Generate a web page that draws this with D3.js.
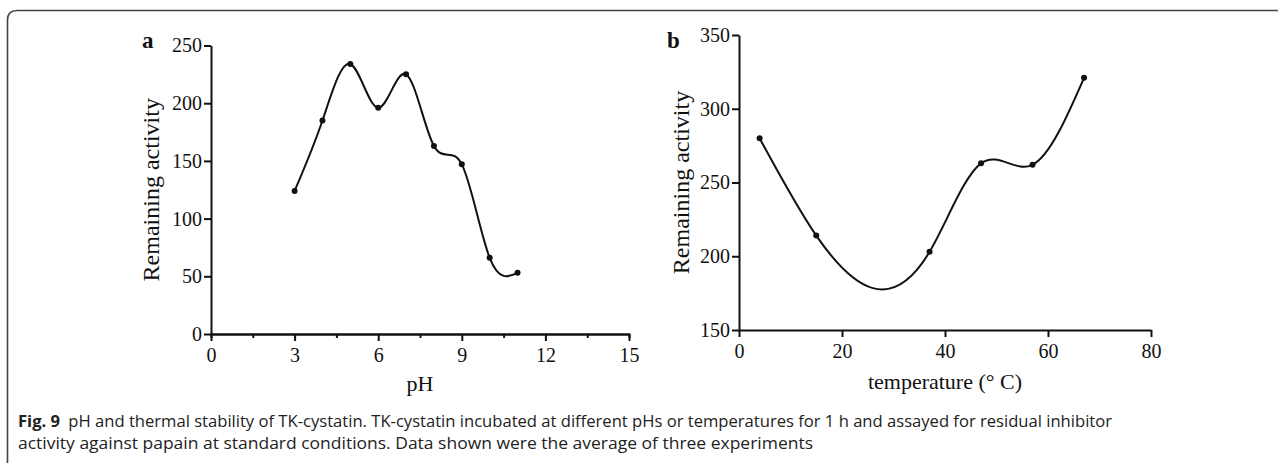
<!DOCTYPE html>
<html>
<head>
<meta charset="utf-8">
<script src="https://cdn.jsdelivr.net/npm/d3@7"></script>
<style>
  body { margin: 0; background: #fff; }
  svg { display: block; }
</style>
</head>
<body>
<script>
// Panel a: pH stability
var phValues = [3, 4, 5, 6, 7, 8, 9, 10, 11];
var phActivity = [124, 185, 234, 196, 225, 163, 147, 66, 53];
var phTicks = [0, 3, 6, 9, 12, 15];
var phMinorTicks = [1.5, 4.5, 7.5, 10.5, 13.5];
var phYTicks = [0, 50, 100, 150, 200, 250];

// Panel b: thermal stability
var tempValues = [4, 15, 37, 47, 57, 67];
var tempActivity = [280, 214, 203, 263, 262, 321];
var tempTicks = [0, 20, 40, 60, 80];
var tempYTicks = [150, 200, 250, 300, 350];

var captionLines = [
  "pH and thermal stability of TK-cystatin. TK-cystatin incubated at different pHs or temperatures for 1 h and assayed for residual inhibitor",
  "activity against papain at standard conditions. Data shown were the average of three experiments"
];

var W = 1278, H = 463;
var serif = "'Liberation Serif', 'Times New Roman', serif";

var svg = d3.select("body").append("svg")
    .attr("width", W)
    .attr("height", H);

// Frame with rounded top-left corner
svg.append("path")
    .attr("d", "M 7.5 463 L 7.5 20 Q 7.5 10.5 17 10.5 L 1278 10.5")
    .attr("fill", "none")
    .attr("stroke", "#444")
    .attr("stroke-width", 1.6);

// Natural cubic spline through the (already scaled) points, y as a function of x
function splinePath(pts) {
  var n = pts.length;
  var h = [], a = [], b = [], c = [], r = [], M = new Array(n).fill(0);
  for (var i = 0; i < n - 1; i++) h.push(pts[i + 1][0] - pts[i][0]);
  // tridiagonal system for inner second derivatives
  for (var i = 1; i < n - 1; i++) {
    a.push(h[i - 1]);
    b.push(2 * (h[i - 1] + h[i]));
    c.push(h[i]);
    r.push(6 * ((pts[i + 1][1] - pts[i][1]) / h[i] - (pts[i][1] - pts[i - 1][1]) / h[i - 1]));
  }
  var m = b.length;
  for (var i = 1; i < m; i++) {
    var w = a[i] / b[i - 1];
    b[i] -= w * c[i - 1];
    r[i] -= w * r[i - 1];
  }
  var sol = new Array(m);
  for (var i = m - 1; i >= 0; i--) {
    sol[i] = (r[i] - (i < m - 1 ? c[i] * sol[i + 1] : 0)) / b[i];
  }
  for (var i = 0; i < m; i++) M[i + 1] = sol[i];

  var path = "M " + pts[0][0] + " " + pts[0][1];
  for (var i = 0; i < n - 1; i++) {
    var x0 = pts[i][0], y0 = pts[i][1], x1 = pts[i + 1][0], y1 = pts[i + 1][1];
    var s = (y1 - y0) / h[i];
    var d0 = s - h[i] * (2 * M[i] + M[i + 1]) / 6;
    var d1 = s + h[i] * (M[i] + 2 * M[i + 1]) / 6;
    path += " C " + (x0 + h[i] / 3) + " " + (y0 + d0 * h[i] / 3) + ", "
          + (x1 - h[i] / 3) + " " + (y1 - d1 * h[i] / 3) + ", "
          + x1 + " " + y1;
  }
  return path;
}

function styleAxis(g) {
  g.select(".domain").attr("stroke", "#111").attr("stroke-width", 2);
  g.selectAll(".tick line").attr("stroke", "#111").attr("stroke-width", 2);
  g.selectAll(".tick text")
      .attr("font-family", serif)
      .attr("font-size", 20)
      .attr("fill", "#111");
}

function drawPanel(opt) {
  var x = d3.scaleLinear().domain(opt.xDomain).range([opt.left, opt.right]);
  var y = d3.scaleLinear().domain(opt.yDomain).range([opt.bottom, opt.top]);

  // minor ticks first so major ticks sit on top
  if (opt.minor) {
    svg.append("g")
        .attr("transform", "translate(0," + opt.bottom + ")")
        .call(d3.axisBottom(x).tickValues(opt.minor).tickSize(4).tickFormat(""))
        .call(styleAxis);
  }

  svg.append("g")
      .attr("transform", "translate(0," + opt.bottom + ")")
      .call(d3.axisBottom(x).tickValues(opt.xTicks).tickSize(7).tickSizeOuter(0).tickPadding(7))
      .call(styleAxis);

  svg.append("g")
      .attr("transform", "translate(" + opt.left + ",0)")
      .call(d3.axisLeft(y).tickValues(opt.yTicks).tickSize(7).tickSizeOuter(0).tickPadding(2))
      .call(styleAxis);

  var pts = opt.xs.map(function(d, i) { return [x(d), y(opt.ys[i])]; });

  svg.append("path")
      .attr("d", splinePath(pts))
      .attr("fill", "none")
      .attr("stroke", "#111")
      .attr("stroke-width", 2);

  svg.selectAll(null)
      .data(pts)
      .enter().append("circle")
      .attr("cx", function(d) { return d[0]; })
      .attr("cy", function(d) { return d[1]; })
      .attr("r", 3)
      .attr("fill", "#111");

  // panel letter
  svg.append("text")
      .attr("x", opt.letterX)
      .attr("y", 48)
      .attr("font-family", serif)
      .attr("font-weight", "bold")
      .attr("font-size", 23)
      .attr("fill", "#111")
      .text(opt.letter);

  // y title
  svg.append("text")
      .attr("transform", "translate(" + opt.yTitleX + "," + ((opt.top + opt.bottom) / 2) + ") rotate(-90)")
      .attr("text-anchor", "middle")
      .attr("font-family", serif)
      .attr("font-size", 24)
      .attr("fill", "#111")
      .text("Remaining activity");

  // x title
  svg.append("text")
      .attr("x", (opt.left + opt.right) / 2)
      .attr("y", opt.xTitleY)
      .attr("text-anchor", "middle")
      .attr("font-family", serif)
      .attr("font-size", 22)
      .attr("fill", "#111")
      .text(opt.xTitle);
}

drawPanel({
  xDomain: [0, 15], yDomain: [0, 250],
  left: 211, right: 629, top: 45.5, bottom: 334,
  xTicks: phTicks, minor: phMinorTicks, yTicks: phYTicks,
  xs: phValues, ys: phActivity,
  letter: "a", letterX: 142, yTitleX: 159, xTitle: "pH", xTitleY: 391
});

drawPanel({
  xDomain: [0, 80], yDomain: [150, 350],
  left: 739, right: 1151, top: 35, bottom: 330,
  xTicks: tempTicks, minor: null, yTicks: tempYTicks,
  xs: tempValues, ys: tempActivity,
  letter: "b", letterX: 667, yTitleX: 689, xTitle: "temperature (° C)", xTitleY: 389
});

// Caption
var capFont = "'Open Sans', 'Noto Sans', sans-serif";

var l1 = svg.append("text")
    .attr("x", 18).attr("y", 427)
    .attr("font-family", capFont)
    .attr("font-size", 16)
    .attr("fill", "#222")
    .attr("textLength", 1094)
    .attr("lengthAdjust", "spacingAndGlyphs");
l1.append("tspan").attr("font-weight", "bold").text("Fig. 9");
l1.append("tspan").text("\u2002" + captionLines[0]);

svg.append("text")
    .attr("x", 18).attr("y", 449)
    .attr("font-family", capFont)
    .attr("font-size", 16)
    .attr("fill", "#222")
    .attr("textLength", 795)
    .attr("lengthAdjust", "spacingAndGlyphs")
    .text(captionLines[1]);
</script>
</body>
</html>
